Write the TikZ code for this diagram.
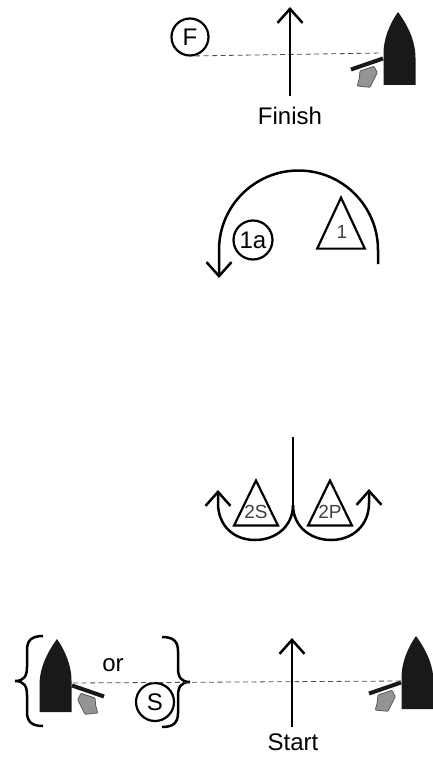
\documentclass[tikz,border=0pt]{standalone}
\usepackage{fontspec}
\setmainfont{Liberation Sans}
\usetikzlibrary{arrows.meta,shapes.geometric}

\begin{document}
\begin{tikzpicture}[
  x=1pt, y=-1pt,
  font=\fontsize{24}{26}\selectfont,
  course/.style={-{Straight Barb[length=14pt, width=25pt, line width=2.5pt]}, line width=2.5pt},
  turn/.style={line width=2.5pt},
  sight/.style={line width=0.8pt, draw=black!70, dash pattern=on 5pt off 3.5pt},
  roundel/.style={draw, circle, line width=2.2pt, minimum size=37pt, inner sep=0pt, font=\fontsize{24}{26}\selectfont},
  tri/.style={draw, isosceles triangle, shape border rotate=90, anchor=apex, line width=2.2pt, inner sep=0pt},
  trilabel/.style={text=black!75, font=\fontsize{19}{20}\selectfont, inner sep=0pt},
  pics/boat/.style={code={
    \fill[black!90] (-14.5,73) -- (-14.5,42) .. controls (-14.5,25) and (-7,10) .. (0,0)
      .. controls (8,11) and (17.5,27) .. (17.5,46) -- (17.5,73) -- cycle;
    \draw[line width=4pt, black!90] (-15,46.5) -- (-47,57.5);
    \draw[fill=black!42, draw=black!65, line width=0.8pt, rounded corners=0.8pt]
      (-38,59) -- (-24,54.3) -- (-20.7,60.7) -- (-28,75.3) -- (-40.7,74) -- (-38.7,66.3) -- cycle;
  }},
  pics/bracket/.style={code={
    \draw[turn] (28,-45) .. controls (17,-45) and (12,-41) .. (12,-31) -- (12,-14)
      .. controls (12,-5) and (9,0) .. (0,0) .. controls (9,0) and (12,5) .. (12,14) -- (12,31)
      .. controls (12,41) and (17,45) .. (28,45);
  }}
]
\useasboundingbox (0,0) rectangle (432,757);

% Finish line
\pic (finboat) at (398,12) {boat};
\node[roundel] (mF) at (190,37) {F};
\coordinate (finR) at (382,53);
\draw[sight] (mF.-75) -- (finR);
\node (finish) at (290,116) {Finish};
\coordinate (finhead) at (290,7);
\draw[course] (290,96) coordinate (fintail) -- (finhead);

% Mark 1
\node[tri, isosceles triangle apex angle=50, minimum height=51pt] (m1) at (341,195) {};
\node[trilabel] (l1) at (342,232) {1};
\node[roundel, minimum size=39pt] (m1a) at (253,240) {1a};
\coordinate (roundstart) at (378,264);
\draw[course] (roundstart) -- (378,250) arc[start angle=0, end angle=180, radius=79.5pt] -- (219,278) coordinate (roundend);

% Gate
\node[tri, isosceles triangle apex angle=52, minimum height=45pt] (m2S) at (256,478) {};
\node[tri, isosceles triangle apex angle=52, minimum height=45pt] (m2P) at (330,478) {};
\node[trilabel] (l2S) at (256,512) {2S};
\node[trilabel] (l2P) at (330,512) {2P};
\coordinate (gatetop) at (293,437);
\coordinate (cusp) at (293,505);
\draw[turn] (gatetop) -- (cusp);
\draw[course] (cusp) .. controls (293,526) and (276,540) .. (255,540)
  .. controls (234,540) and (218,526) .. (218,503) -- (218,490);
\draw[course] (cusp) .. controls (293,526) and (310,540) .. (331,540)
  .. controls (352,540) and (369,526) .. (369,503) -- (369,489);

% Start line
\pic (startboat) at (416,636) {boat};
\pic[xscale=-1] (pinboat) at (57,639) {boat};
\node[roundel, minimum size=38pt] (mS) at (155,702) {S};
\node (orlabel) at (113,665) {or};
\pic at (15,681) {bracket};
\pic[xscale=-1] at (190,682) {bracket};
\coordinate (startL) at (73,683);
\coordinate (startR) at (402,681);
\draw[sight] (startL) -- (startR);
\node (start) at (293,742) {Start};
\coordinate (starthead) at (292,638);
\draw[course] (292,727) coordinate (starttail) -- (starthead);

\end{tikzpicture}
\end{document}
